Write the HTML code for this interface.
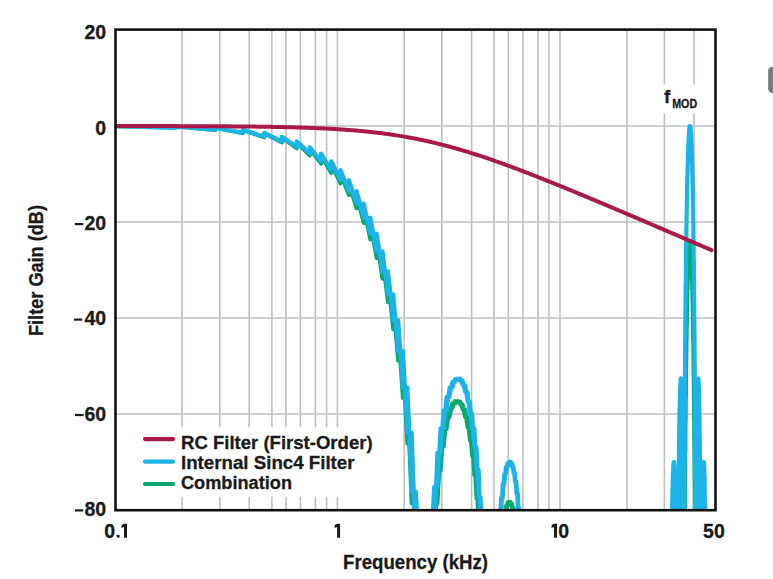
<!DOCTYPE html>
<html><head><meta charset="utf-8"><style>
html,body{margin:0;padding:0;background:#fff;}
svg{display:block;}
</style></head><body>
<svg width="773" height="579" viewBox="0 0 773 579">
<rect x="0" y="0" width="773" height="579" fill="#fff"/>
<g stroke="#bfbfc7" stroke-width="1.6" fill="none"><line x1="182.0" y1="30" x2="182.0" y2="510"/><line x1="219.8" y1="30" x2="219.8" y2="510"/><line x1="249.2" y1="30" x2="249.2" y2="510"/><line x1="271.9" y1="30" x2="271.9" y2="510"/><line x1="285.9" y1="30" x2="285.9" y2="510"/><line x1="300.4" y1="30" x2="300.4" y2="510"/><line x1="315.4" y1="30" x2="315.4" y2="510"/><line x1="326.6" y1="30" x2="326.6" y2="510"/><line x1="337.4" y1="30" x2="337.4" y2="510"/><line x1="404.2" y1="30" x2="404.2" y2="510"/><line x1="441.8" y1="30" x2="441.8" y2="510"/><line x1="471.6" y1="30" x2="471.6" y2="510"/><line x1="494.0" y1="30" x2="494.0" y2="510"/><line x1="508.3" y1="30" x2="508.3" y2="510"/><line x1="523.0" y1="30" x2="523.0" y2="510"/><line x1="538.0" y1="30" x2="538.0" y2="510"/><line x1="548.9" y1="30" x2="548.9" y2="510"/><line x1="560.0" y1="30" x2="560.0" y2="510"/><line x1="627.0" y1="30" x2="627.0" y2="510"/><line x1="664.4" y1="30" x2="664.4" y2="510"/><line x1="694.0" y1="30" x2="694.0" y2="510"/><line x1="115" y1="126.0" x2="716" y2="126.0"/><line x1="115" y1="222.0" x2="716" y2="222.0"/><line x1="115" y1="318.0" x2="716" y2="318.0"/><line x1="115" y1="414.0" x2="716" y2="414.0"/></g>
<rect x="117" y="427.2" width="272" height="69.6" fill="#fff"/>
<rect x="658" y="84.5" width="44" height="28.8" fill="#fff"/>
<defs><clipPath id="pc"><rect x="115.5" y="29.6" width="600" height="480"/></clipPath></defs>
<g clip-path="url(#pc)" fill="none" stroke-linejoin="round" stroke-linecap="round">
<path d="M108.87,126.00 L175.82,127.79 L175.82,126.45 L214.98,130.04 L214.98,127.79 L242.76,133.21 L242.76,130.04 L264.32,137.31 L264.32,133.21 L281.93,142.36 L281.93,137.31 L296.82,148.40 L296.82,142.36 L309.71,155.47 L309.71,148.40 L321.09,163.61 L321.09,155.47 L331.27,172.87 L331.27,163.61 L340.47,183.34 L340.47,172.87 L348.88,195.10 L348.88,183.34 L356.61,208.28 L356.61,195.10 L363.77,223.01 L363.77,208.28 L370.43,239.48 L370.43,223.01 L376.66,257.94 L376.66,239.48 L382.52,278.73 L382.52,257.94 L388.04,302.28 L388.04,278.73 L393.26,329.24 L393.26,302.28 L398.22,360.59 L398.22,329.24 L402.93,397.85 L402.93,360.59 L407.42,443.71 L407.42,397.85 L411.71,503.48 L411.71,443.71 L415.83,560.00 L415.83,503.48 L419.77,560.00 L423.56,560.00 L427.20,560.00 L430.71,552.78 L430.71,560.00 L434.10,503.69 L434.10,552.78 L437.38,470.36 L437.38,503.69 L440.55,446.57 L440.55,470.36 L443.61,429.33 L443.61,446.57 L446.58,417.00 L446.58,429.33 L449.47,408.58 L449.47,417.00 L452.27,403.43 L452.27,408.58 L454.99,401.16 L454.99,403.43 L457.63,401.49 L457.63,401.16 L460.21,404.29 L460.21,401.49 L462.72,409.49 L462.72,404.29 L465.16,417.10 L465.16,409.49 L467.55,427.21 L467.55,417.10 L469.88,440.01 L469.88,427.21 L472.15,455.79 L472.15,440.01 L474.37,475.01 L474.37,455.79 L476.54,498.36 L476.54,475.01 L478.66,526.96 L478.66,498.36 L480.74,560.00 L480.74,526.96 L482.77,560.00 L484.77,560.00 L486.72,560.00 L488.63,560.00 L490.51,560.00 L492.35,560.00 L494.15,560.00 L495.92,560.00 L497.66,560.00 L499.37,552.57 L499.37,560.00 L501.05,534.85 L501.05,552.57 L502.70,521.69 L502.70,534.85 L504.33,512.25 L504.33,521.69 L505.92,506.00 L505.92,512.25 L507.49,502.59 L507.49,506.00 L509.04,501.80 L509.04,502.59 L510.56,503.52 L510.56,501.80 L512.06,507.71 L512.06,503.52 L513.53,514.40 L513.53,507.71 L514.99,523.72 L514.99,514.40 L516.42,535.89 L516.42,523.72 L517.83,551.26 L517.83,535.89 L519.22,560.00 L519.22,551.26 L520.59,560.00 L521.94,560.00 L523.27,560.00 L524.58,560.00 L525.88,560.00 L527.16,560.00 L528.42,560.00 L529.67,560.00 L530.90,560.00 L532.11,560.00 L533.31,560.00 L534.50,560.00 L535.67,560.00 L536.83,560.00 L537.97,560.00 L539.10,560.00 L540.22,560.00 L541.32,560.00 L542.41,560.00 L543.49,560.00 L544.56,560.00 L545.61,560.00 L546.66,560.00 L547.69,560.00 L548.71,560.00 L549.72,560.00 L550.72,560.00 L551.72,560.00 L552.70,560.00 L553.67,560.00 L554.63,560.00 L555.58,560.00 L556.52,560.00 L557.45,560.00 L558.38,560.00 L559.29,560.00 L560.20,560.00 L561.10,560.00 L561.99,560.00 L562.87,560.00 L563.75,560.00 L564.61,560.00 L565.47,560.00 L566.32,560.00 L567.17,560.00 L568.00,560.00 L568.83,560.00 L569.65,560.00 L570.47,560.00 L571.28,560.00 L572.08,560.00 L572.87,560.00 L573.66,560.00 L574.44,560.00 L575.22,560.00 L575.99,560.00 L576.75,560.00 L577.51,560.00 L578.26,560.00 L579.01,560.00 L579.75,560.00 L580.48,560.00 L581.21,560.00 L581.93,560.00 L582.65,560.00 L583.37,560.00 L584.07,560.00 L584.78,560.00 L585.47,560.00 L586.17,560.00 L586.85,560.00 L587.54,560.00 L588.21,560.00 L588.89,560.00 L589.55,560.00 L590.22,560.00 L590.88,560.00 L591.53,560.00 L592.18,560.00 L592.83,560.00 L593.47,560.00 L594.11,560.00 L594.74,560.00 L595.37,560.00 L596.00,560.00 L596.62,560.00 L597.23,560.00 L597.85,560.00 L598.46,560.00 L599.06,560.00 L599.66,560.00 L600.26,560.00 L600.86,560.00 L601.45,560.00 L602.03,560.00 L602.62,560.00 L603.20,560.00 L603.78,560.00 L604.35,560.00 L604.92,560.00 L605.48,560.00 L606.05,560.00 L606.61,560.00 L607.16,560.00 L607.72,560.00 L608.27,560.00 L608.82,560.00 L609.36,560.00 L609.90,560.00 L610.44,560.00 L610.97,560.00 L611.51,560.00 L612.04,560.00 L612.56,560.00 L613.09,560.00 L613.61,560.00 L614.12,560.00 L614.64,560.00 L615.15,560.00 L615.66,560.00 L616.17,560.00 L616.67,560.00 L617.17,560.00 L617.67,560.00 L618.17,560.00 L618.66,560.00 L619.16,560.00 L619.64,560.00 L620.13,560.00 L620.62,560.00 L621.10,560.00 L621.58,560.00 L622.05,560.00 L622.53,560.00 L623.00,560.00 L623.47,560.00 L623.94,560.00 L624.40,560.00 L624.87,560.00 L625.33,560.00 L625.79,560.00 L626.24,560.00 L626.70,560.00 L627.15,560.00 L627.60,560.00 L628.05,560.00 L628.50,560.00 L628.94,560.00 L629.38,560.00 L629.82,560.00 L630.26,560.00 L630.70,560.00 L631.13,560.00 L631.56,560.00 L631.99,560.00 L632.42,560.00 L632.85,560.00 L633.27,560.00 L633.69,560.00 L634.11,560.00 L634.53,560.00 L634.95,560.00 L635.37,560.00 L635.78,560.00 L636.19,560.00 L636.60,560.00 L637.01,560.00 L637.42,560.00 L637.82,560.00 L638.23,560.00 L638.63,560.00 L639.03,560.00 L639.43,560.00 L639.82,560.00 L640.22,560.00 L640.61,560.00 L641.00,560.00 L641.39,560.00 L641.78,560.00 L642.17,560.00 L642.55,560.00 L642.94,560.00 L643.32,560.00 L643.70,560.00 L644.08,560.00 L644.46,560.00 L644.84,560.00 L645.21,560.00 L645.58,560.00 L645.96,560.00 L646.33,560.00 L646.70,560.00 L647.06,560.00 L647.43,560.00 L647.80,560.00 L648.16,560.00 L648.52,560.00 L648.88,560.00 L649.24,560.00 L649.60,560.00 L649.96,560.00 L650.31,560.00 L650.67,560.00 L651.02,560.00 L651.37,560.00 L651.72,560.00 L652.07,560.00 L652.42,560.00 L652.77,560.00 L653.11,560.00 L653.46,560.00 L653.80,560.00 L654.14,560.00 L654.48,560.00 L654.82,560.00 L655.16,560.00 L655.50,560.00 L655.84,560.00 L656.17,560.00 L656.50,560.00 L656.84,560.00 L657.17,560.00 L657.50,560.00 L657.83,560.00 L658.15,560.00 L658.48,560.00 L658.81,560.00 L659.13,560.00 L659.46,560.00 L659.78,560.00 L660.10,560.00 L660.42,560.00 L660.74,560.00 L661.06,560.00 L661.37,560.00 L661.69,560.00 L662.01,560.00 L662.32,560.00 L662.63,560.00 L662.95,560.00 L663.26,560.00 L663.57,560.00 L663.88,560.00 L664.18,560.00 L664.49,560.00 L664.80,560.00 L665.10,560.00 L665.41,560.00 L665.71,560.00 L666.01,560.00 L666.31,560.00 L666.61,560.00 L666.91,560.00 L667.21,560.00 L667.51,560.00 L667.81,560.00 L668.10,560.00 L668.40,560.00 L668.69,560.00 L668.98,560.00 L669.28,560.00 L669.57,560.00 L669.86,560.00 L670.15,560.00 L670.44,560.00 L670.72,560.00 L671.01,560.00 L671.30,560.00 L671.58,560.00 L671.87,560.00 L672.15,560.00 L672.43,560.00 L672.72,560.00 L673.00,560.00 L673.28,560.00 L673.56,560.00 L673.84,560.00 L674.11,560.00 L674.39,560.00 L674.67,560.00 L674.94,560.00 L675.22,560.00 L675.49,560.00 L675.76,560.00 L676.04,560.00 L676.31,560.00 L676.58,560.00 L676.85,560.00 L677.12,560.00 L677.39,560.00 L677.66,560.00 L677.92,560.00 L678.19,560.00 L678.46,560.00 L678.72,560.00 L678.98,549.28 L678.98,560.00 L679.25,532.33 L679.25,549.28 L679.51,518.61 L679.51,532.33 L679.77,507.75 L679.77,518.61 L680.03,499.50 L680.03,507.75 L680.30,493.71 L680.30,499.50 L680.56,490.32 L680.56,493.71 L680.81,489.36 L680.81,490.32 L681.07,490.91 L681.07,489.36 L681.33,495.17 L681.33,490.91 L681.59,502.45 L681.59,495.17 L681.84,513.23 L681.84,502.45 L682.10,528.27 L682.10,513.23 L682.36,548.78 L682.36,528.27 L682.61,560.00 L682.61,548.78 L682.86,560.00 L683.12,560.00 L683.37,560.00 L683.62,560.00 L683.87,560.00 L684.12,560.00 L684.37,560.00 L684.62,525.80 L684.62,560.00 L684.87,484.70 L684.87,525.80 L685.12,450.92 L685.12,484.70 L685.37,422.34 L685.37,450.92 L685.61,397.69 L685.61,422.34 L685.86,376.15 L685.86,397.69 L686.10,357.16 L686.10,376.15 L686.35,340.32 L686.35,357.16 L686.59,325.34 L686.59,340.32 L686.84,312.00 L686.84,325.34 L687.08,300.12 L687.08,312.00 L687.32,289.56 L687.32,300.12 L687.56,280.22 L687.56,289.56 L687.81,272.02 L687.81,280.22 L688.05,264.87 L688.05,272.02 L688.29,258.72 L688.29,264.87 L688.53,253.54 L688.53,258.72 L688.76,249.27 L688.76,253.54 L689.00,245.89 L689.00,249.27 L689.24,243.38 L689.24,245.89 L689.48,241.73 L689.48,243.38 L689.71,240.91 L689.71,241.73 L689.95,240.93 L689.95,240.91 L690.18,241.78 L690.18,240.93 L690.42,243.47 L690.42,241.78 L690.65,246.01 L690.65,243.47 L690.89,249.42 L690.89,246.01 L691.12,253.71 L691.12,249.42 L691.35,258.91 L691.35,253.71 L691.58,265.06 L691.58,258.91 L691.82,272.21 L691.82,265.06 L692.05,280.40 L692.05,272.21 L692.28,289.71 L692.28,280.40 L692.51,300.21 L692.51,289.71 L692.74,312.02 L692.74,300.21 L692.96,325.27 L692.96,312.02 L693.19,340.10 L693.19,325.27 L693.42,356.75 L693.42,340.10 L693.65,375.49 L693.65,356.75 L693.87,396.68 L693.87,375.49 L694.10,420.86 L694.10,396.68 L694.32,448.78 L694.32,420.86 L694.55,481.59 L694.55,448.78 L694.77,521.19 L694.77,481.59 L695.00,560.00 L695.00,521.19 L695.22,560.00 L695.44,560.00 L695.67,560.00 L695.89,560.00 L696.11,560.00 L696.33,560.00 L696.55,560.00 L696.77,559.87 L696.77,560.00 L696.99,538.26 L696.99,559.87 L697.21,522.45 L697.21,538.26 L697.43,511.10 L697.43,522.45 L697.64,503.37 L697.64,511.10 L697.86,498.73 L697.86,503.37 L698.08,496.86 L698.08,498.73 L698.29,497.54 L698.29,496.86 L698.51,500.65 L698.51,497.54 L698.73,506.16 L698.73,500.65 L698.94,514.12 L698.94,506.16 L699.16,524.64 L699.16,514.12 L699.37,537.97 L699.37,524.64 L699.58,554.44 L699.58,537.97 L699.80,560.00 L699.80,554.44 L700.01,560.00 L700.22,560.00 L700.43,560.00 L700.64,560.00 L700.85,560.00 L701.06,560.00 L701.27,560.00 L701.48,560.00 L701.69,560.00 L701.90,560.00 L702.11,560.00 L702.32,560.00 L702.52,560.00 L702.73,560.00 L702.94,560.00 L703.14,560.00 L703.35,560.00 L703.55,560.00 L703.76,560.00 L703.96,560.00 L704.16,560.00 L704.37,560.00 L704.57,560.00 L704.77,560.00 L704.97,560.00 L705.17,560.00 L705.38,560.00 L705.58,560.00 L705.78,560.00 L705.98,560.00 L706.18,560.00 L706.37,560.00 L706.57,560.00 L706.77,560.00 L706.97,560.00 L707.17,560.00 L707.36,560.00 L707.56,560.00 L707.76,560.00 L707.95,560.00 L708.15,560.00 L708.34,560.00 L708.54,560.00 L708.73,560.00 L708.92,560.00 L709.12,560.00 L709.31,560.00 L709.50,560.00 L709.70,560.00 L709.89,560.00 L710.08,560.00 L710.27,560.00 L710.46,560.00 L710.65,560.00 L710.84,560.00 L711.03,560.00 L711.22,560.00 L711.41,560.00" stroke="#06aa70" stroke-width="4.1"/>
<path d="M108.87,126.00 L175.82,127.67 L175.82,126.42 L214.98,129.77 L214.98,127.67 L242.76,132.73 L242.76,129.77 L264.32,136.56 L264.32,132.73 L281.93,141.29 L281.93,136.56 L296.82,146.96 L296.82,141.29 L309.71,153.60 L309.71,146.96 L321.09,161.27 L321.09,153.60 L331.27,170.02 L331.27,161.27 L340.47,179.94 L340.47,170.02 L348.88,191.12 L348.88,179.94 L356.61,203.67 L356.61,191.12 L363.77,217.75 L363.77,203.67 L370.43,233.55 L370.43,217.75 L376.66,251.31 L376.66,233.55 L382.52,271.37 L382.52,251.31 L388.04,294.18 L388.04,271.37 L393.26,320.40 L393.26,294.18 L398.22,350.98 L398.22,320.40 L402.93,387.46 L402.93,350.98 L407.42,432.54 L407.42,387.46 L411.71,491.53 L411.71,432.54 L415.83,560.00 L415.83,491.53 L419.77,560.00 L423.56,560.00 L427.20,560.00 L430.71,536.84 L430.71,560.00 L434.10,486.96 L434.10,536.84 L437.38,452.84 L437.38,486.96 L440.55,428.26 L440.55,452.84 L443.61,410.24 L443.61,428.26 L446.58,397.13 L446.58,410.24 L449.47,387.93 L449.47,397.13 L452.27,382.01 L452.27,387.93 L454.99,378.98 L454.99,382.01 L457.63,378.56 L457.63,378.98 L460.21,380.61 L460.21,378.56 L462.72,385.07 L462.72,380.61 L465.16,391.94 L465.16,385.07 L467.55,401.33 L467.55,391.94 L469.88,413.41 L469.88,401.33 L472.15,428.47 L472.15,413.41 L474.37,446.99 L474.37,428.47 L476.54,469.64 L476.54,446.99 L478.66,497.56 L478.66,469.64 L480.74,532.58 L480.74,497.56 L482.77,560.00 L482.77,532.58 L484.77,560.00 L486.72,560.00 L488.63,560.00 L490.51,560.00 L492.35,560.00 L494.15,560.00 L495.92,560.00 L497.66,540.31 L497.66,560.00 L499.37,516.08 L499.37,540.31 L501.05,497.76 L501.05,516.08 L502.70,484.00 L502.70,497.76 L504.33,473.98 L504.33,484.00 L505.92,467.15 L505.92,473.98 L507.49,463.16 L507.49,467.15 L509.04,461.81 L509.04,463.16 L510.56,462.96 L510.56,461.81 L512.06,466.59 L512.06,462.96 L513.53,472.74 L513.53,466.59 L514.99,481.52 L514.99,472.74 L516.42,493.15 L516.42,481.52 L517.83,507.99 L517.83,493.15 L519.22,526.57 L519.22,507.99 L520.59,549.73 L520.59,526.57 L521.94,560.00 L521.94,549.73 L523.27,560.00 L524.58,560.00 L525.88,560.00 L527.16,560.00 L528.42,560.00 L529.67,560.00 L530.90,560.00 L532.11,560.00 L533.31,560.00 L534.50,560.00 L535.67,560.00 L536.83,546.30 L536.83,560.00 L537.97,533.17 L537.97,546.30 L539.10,523.55 L539.10,533.17 L540.22,516.99 L540.22,523.55 L541.32,513.20 L541.32,516.99 L542.41,512.00 L542.41,513.20 L543.49,513.31 L543.49,512.00 L544.56,517.12 L544.56,513.31 L545.61,523.50 L545.61,517.12 L546.66,532.61 L546.66,523.50 L547.69,544.71 L547.69,532.61 L548.71,560.00 L548.71,544.71 L549.72,560.00 L550.72,560.00 L551.72,560.00 L552.70,560.00 L553.67,560.00 L554.63,560.00 L555.58,560.00 L556.52,560.00 L557.45,560.00 L558.38,560.00 L559.29,560.00 L560.20,560.00 L561.10,560.00 L561.99,560.00 L562.87,560.00 L563.75,560.00 L564.61,555.20 L564.61,560.00 L565.47,549.25 L565.47,555.20 L566.32,545.99 L566.32,549.25 L567.17,545.29 L567.17,545.99 L568.00,547.08 L568.00,545.29 L568.83,551.41 L568.83,547.08 L569.65,558.37 L569.65,551.41 L570.47,560.00 L570.47,558.37 L571.28,560.00 L572.08,560.00 L572.87,560.00 L573.66,560.00 L574.44,560.00 L575.22,560.00 L575.99,560.00 L576.75,560.00 L577.51,560.00 L578.26,560.00 L579.01,560.00 L579.75,560.00 L580.48,560.00 L581.21,560.00 L581.93,560.00 L582.65,560.00 L583.37,560.00 L584.07,560.00 L584.78,560.00 L585.47,560.00 L586.17,560.00 L586.85,560.00 L587.54,560.00 L588.21,560.00 L588.89,560.00 L589.55,560.00 L590.22,560.00 L590.88,560.00 L591.53,560.00 L592.18,560.00 L592.83,560.00 L593.47,560.00 L594.11,560.00 L594.74,560.00 L595.37,560.00 L596.00,560.00 L596.62,560.00 L597.23,560.00 L597.85,560.00 L598.46,560.00 L599.06,560.00 L599.66,560.00 L600.26,560.00 L600.86,560.00 L601.45,560.00 L602.03,560.00 L602.62,560.00 L603.20,560.00 L603.78,560.00 L604.35,560.00 L604.92,560.00 L605.48,560.00 L606.05,560.00 L606.61,560.00 L607.16,560.00 L607.72,560.00 L608.27,560.00 L608.82,560.00 L609.36,560.00 L609.90,560.00 L610.44,560.00 L610.97,560.00 L611.51,560.00 L612.04,560.00 L612.56,560.00 L613.09,560.00 L613.61,560.00 L614.12,560.00 L614.64,560.00 L615.15,560.00 L615.66,560.00 L616.17,560.00 L616.67,560.00 L617.17,560.00 L617.67,560.00 L618.17,560.00 L618.66,560.00 L619.16,560.00 L619.64,560.00 L620.13,560.00 L620.62,560.00 L621.10,560.00 L621.58,560.00 L622.05,560.00 L622.53,560.00 L623.00,560.00 L623.47,560.00 L623.94,560.00 L624.40,560.00 L624.87,560.00 L625.33,560.00 L625.79,560.00 L626.24,560.00 L626.70,560.00 L627.15,560.00 L627.60,560.00 L628.05,560.00 L628.50,560.00 L628.94,560.00 L629.38,560.00 L629.82,560.00 L630.26,560.00 L630.70,560.00 L631.13,560.00 L631.56,560.00 L631.99,560.00 L632.42,560.00 L632.85,560.00 L633.27,560.00 L633.69,560.00 L634.11,560.00 L634.53,560.00 L634.95,560.00 L635.37,560.00 L635.78,560.00 L636.19,560.00 L636.60,560.00 L637.01,560.00 L637.42,560.00 L637.82,560.00 L638.23,560.00 L638.63,560.00 L639.03,560.00 L639.43,560.00 L639.82,560.00 L640.22,560.00 L640.61,560.00 L641.00,560.00 L641.39,560.00 L641.78,560.00 L642.17,560.00 L642.55,560.00 L642.94,560.00 L643.32,560.00 L643.70,560.00 L644.08,560.00 L644.46,560.00 L644.84,560.00 L645.21,560.00 L645.58,560.00 L645.96,560.00 L646.33,560.00 L646.70,560.00 L647.06,560.00 L647.43,560.00 L647.80,560.00 L648.16,560.00 L648.52,560.00 L648.88,560.00 L649.24,560.00 L649.60,560.00 L649.96,560.00 L650.31,560.00 L650.67,560.00 L651.02,560.00 L651.37,560.00 L651.72,560.00 L652.07,560.00 L652.42,560.00 L652.77,560.00 L653.11,560.00 L653.46,560.00 L653.80,560.00 L654.14,560.00 L654.48,560.00 L654.82,560.00 L655.16,560.00 L655.50,560.00 L655.84,560.00 L656.17,560.00 L656.50,560.00 L656.84,560.00 L657.17,555.26 L657.17,560.00 L657.50,549.37 L657.50,555.26 L657.83,546.06 L657.83,549.37 L658.15,545.26 L658.15,546.06 L658.48,546.98 L658.48,545.26 L658.81,551.30 L658.81,546.98 L659.13,558.39 L659.13,551.30 L659.46,560.00 L659.46,558.39 L659.78,560.00 L660.10,560.00 L660.42,560.00 L660.74,560.00 L661.06,560.00 L661.37,560.00 L661.69,560.00 L662.01,560.00 L662.32,560.00 L662.63,560.00 L662.95,560.00 L663.26,560.00 L663.57,560.00 L663.88,560.00 L664.18,560.00 L664.49,553.57 L664.49,560.00 L664.80,539.49 L664.80,553.57 L665.10,528.62 L665.10,539.49 L665.41,520.63 L665.41,528.62 L665.71,515.29 L665.71,520.63 L666.01,512.49 L666.01,515.29 L666.31,512.18 L666.31,512.49 L666.61,514.40 L666.61,512.18 L666.91,519.27 L666.91,514.40 L667.21,527.01 L667.21,519.27 L667.51,537.97 L667.51,527.01 L667.81,552.68 L667.81,537.97 L668.10,560.00 L668.10,552.68 L668.40,560.00 L668.69,560.00 L668.98,560.00 L669.28,560.00 L669.57,560.00 L669.86,560.00 L670.15,560.00 L670.44,560.00 L670.72,560.00 L671.01,560.00 L671.30,560.00 L671.58,539.84 L671.58,560.00 L671.87,518.64 L671.87,539.84 L672.15,501.64 L672.15,518.64 L672.43,488.13 L672.43,501.64 L672.72,477.68 L672.72,488.13 L673.00,469.97 L673.00,477.68 L673.28,464.84 L673.28,469.97 L673.56,462.20 L673.56,464.84 L673.84,462.04 L673.84,462.20 L674.11,464.43 L674.11,462.04 L674.39,469.52 L674.39,464.43 L674.67,477.58 L674.67,469.52 L674.94,489.02 L674.94,477.58 L675.22,504.48 L675.22,489.02 L675.49,524.96 L675.49,504.48 L675.76,552.12 L675.76,524.96 L676.04,560.00 L676.04,552.12 L676.31,560.00 L676.58,560.00 L676.85,560.00 L677.12,560.00 L677.39,560.00 L677.66,560.00 L677.92,558.32 L677.92,560.00 L678.19,517.55 L678.19,558.32 L678.46,485.66 L678.46,517.55 L678.72,460.02 L678.72,485.66 L678.98,439.13 L678.98,460.02 L679.25,422.06 L679.25,439.13 L679.51,408.24 L679.51,422.06 L679.77,397.26 L679.77,408.24 L680.03,388.90 L680.03,397.26 L680.30,383.00 L680.30,388.90 L680.56,379.50 L680.56,383.00 L680.81,378.42 L680.81,379.50 L681.07,379.87 L681.07,378.42 L681.33,384.02 L681.33,379.87 L681.59,391.18 L681.59,384.02 L681.84,401.86 L681.84,391.18 L682.10,416.78 L682.10,401.86 L682.36,437.18 L682.36,416.78 L682.61,465.10 L682.61,437.18 L682.86,504.47 L682.86,465.10 L683.12,560.00 L683.12,504.47 L683.37,560.00 L683.62,560.00 L683.87,560.00 L684.12,538.37 L684.12,560.00 L684.37,465.71 L684.37,538.37 L684.62,413.23 L684.62,465.71 L684.87,372.03 L684.87,413.23 L685.12,338.14 L685.12,372.03 L685.37,309.45 L685.37,338.14 L685.61,284.69 L685.61,309.45 L685.86,263.04 L685.86,284.69 L686.10,243.95 L686.10,263.04 L686.35,227.01 L686.35,243.95 L686.59,211.92 L686.59,227.01 L686.84,198.47 L686.84,211.92 L687.08,186.49 L687.08,198.47 L687.32,175.83 L687.32,186.49 L687.56,166.39 L687.56,175.83 L687.81,158.08 L687.81,166.39 L688.05,150.83 L688.05,158.08 L688.29,144.58 L688.29,150.83 L688.53,139.29 L688.53,144.58 L688.76,134.92 L688.76,139.29 L689.00,131.44 L689.00,134.92 L689.24,128.83 L689.24,131.44 L689.48,127.07 L689.48,128.83 L689.71,126.15 L689.71,127.07 L689.95,126.07 L689.95,126.15 L690.18,126.82 L690.18,126.07 L690.42,128.41 L690.42,126.82 L690.65,130.85 L690.65,128.41 L690.89,134.15 L690.89,130.85 L691.12,138.34 L691.12,134.15 L691.35,143.45 L691.35,138.34 L691.58,149.50 L691.58,143.45 L691.82,156.54 L691.82,149.50 L692.05,164.64 L692.05,156.54 L692.28,173.85 L692.28,164.64 L692.51,184.25 L692.51,173.85 L692.74,195.96 L692.74,184.25 L692.96,209.11 L692.96,195.96 L693.19,223.85 L693.19,209.11 L693.42,240.40 L693.42,223.85 L693.65,259.03 L693.65,240.40 L693.87,280.13 L693.87,259.03 L694.10,304.21 L694.10,280.13 L694.32,332.03 L694.32,304.21 L694.55,364.75 L694.55,332.03 L694.77,404.25 L694.77,364.75 L695.00,454.00 L695.00,404.25 L695.22,521.42 L695.22,454.00 L695.44,560.00 L695.44,521.42 L695.67,560.00 L695.89,560.00 L696.11,560.00 L696.33,514.34 L696.33,560.00 L696.55,471.88 L696.55,514.34 L696.77,442.07 L696.77,471.88 L696.99,420.38 L696.99,442.07 L697.21,404.47 L697.21,420.38 L697.43,393.02 L697.43,404.47 L697.64,385.20 L697.64,393.02 L697.86,380.47 L697.86,385.20 L698.08,378.51 L698.08,380.47 L698.29,379.09 L698.29,378.51 L698.51,382.11 L698.51,379.09 L698.73,387.52 L698.73,382.11 L698.94,395.39 L698.94,387.52 L699.16,405.82 L699.16,395.39 L699.37,419.05 L699.37,405.82 L699.58,435.43 L699.58,419.05 L699.80,455.50 L699.80,435.43 L700.01,480.10 L700.01,455.50 L700.22,510.57 L700.22,480.10 L700.43,549.26 L700.43,510.57 L700.64,560.00 L700.64,549.26 L700.85,560.00 L701.06,560.00 L701.27,560.00 L701.48,560.00 L701.69,560.00 L701.90,560.00 L702.11,558.58 L702.11,560.00 L702.32,529.79 L702.32,558.58 L702.52,508.13 L702.52,529.79 L702.73,491.77 L702.73,508.13 L702.94,479.58 L702.94,491.77 L703.14,470.88 L703.14,479.58 L703.35,465.22 L703.35,470.88 L703.55,462.31 L703.55,465.22 L703.76,461.97 L703.76,462.31 L703.96,464.12 L703.96,461.97 L704.16,468.74 L704.16,464.12 L704.37,475.92 L704.37,468.74 L704.57,485.81 L704.57,475.92 L704.77,498.68 L704.77,485.81 L704.97,514.93 L704.97,498.68 L705.17,535.22 L705.17,514.93 L705.38,560.00 L705.38,535.22 L705.58,560.00 L705.78,560.00 L705.98,560.00 L706.18,560.00 L706.37,560.00 L706.57,560.00 L706.77,560.00 L706.97,560.00 L707.17,560.00 L707.36,560.00 L707.56,560.00 L707.76,556.14 L707.76,560.00 L707.95,540.59 L707.95,556.14 L708.15,528.93 L708.15,540.59 L708.34,520.58 L708.34,528.93 L708.54,515.15 L708.54,520.58 L708.73,512.41 L708.73,515.15 L708.92,512.23 L708.92,512.41 L709.12,514.53 L709.12,512.23 L709.31,519.36 L709.31,514.53 L709.50,526.80 L709.50,519.36 L709.70,537.07 L709.70,526.80 L709.89,550.48 L709.89,537.07 L710.08,560.00 L710.08,550.48 L710.27,560.00 L710.46,560.00 L710.65,560.00 L710.84,560.00 L711.03,560.00 L711.22,560.00 L711.41,560.00" stroke="#1cb4e8" stroke-width="4.1"/>
<path d="M115.10,126.03 L116.59,126.04 L118.08,126.04 L119.57,126.04 L121.06,126.04 L122.55,126.04 L124.04,126.04 L125.54,126.04 L127.03,126.04 L128.52,126.05 L130.01,126.05 L131.50,126.05 L132.99,126.05 L134.48,126.05 L135.97,126.05 L137.46,126.06 L138.95,126.06 L140.44,126.06 L141.93,126.06 L143.42,126.06 L144.92,126.06 L146.41,126.07 L147.90,126.07 L149.39,126.07 L150.88,126.07 L152.37,126.08 L153.86,126.08 L155.35,126.08 L156.84,126.08 L158.33,126.08 L159.82,126.09 L161.31,126.09 L162.80,126.09 L164.30,126.10 L165.79,126.10 L167.28,126.10 L168.77,126.11 L170.26,126.11 L171.75,126.11 L173.24,126.12 L174.73,126.12 L176.22,126.12 L177.71,126.13 L179.20,126.13 L180.69,126.13 L182.18,126.14 L183.68,126.14 L185.17,126.15 L186.66,126.15 L188.15,126.16 L189.64,126.16 L191.13,126.17 L192.62,126.17 L194.11,126.18 L195.60,126.18 L197.09,126.19 L198.58,126.19 L200.07,126.20 L201.56,126.21 L203.06,126.21 L204.55,126.22 L206.04,126.23 L207.53,126.23 L209.02,126.24 L210.51,126.25 L212.00,126.26 L213.49,126.26 L214.98,126.27 L216.47,126.28 L217.96,126.29 L219.45,126.30 L220.94,126.31 L222.44,126.32 L223.93,126.33 L225.42,126.34 L226.91,126.35 L228.40,126.36 L229.89,126.37 L231.38,126.38 L232.87,126.39 L234.36,126.41 L235.85,126.42 L237.34,126.43 L238.83,126.45 L240.32,126.46 L241.82,126.47 L243.31,126.49 L244.80,126.50 L246.29,126.52 L247.78,126.53 L249.27,126.55 L250.76,126.57 L252.25,126.59 L253.74,126.60 L255.23,126.62 L256.72,126.64 L258.21,126.66 L259.70,126.68 L261.20,126.70 L262.69,126.72 L264.18,126.75 L265.67,126.77 L267.16,126.79 L268.65,126.82 L270.14,126.84 L271.63,126.87 L273.12,126.90 L274.61,126.92 L276.10,126.95 L277.59,126.98 L279.08,127.01 L280.58,127.04 L282.07,127.07 L283.56,127.11 L285.05,127.14 L286.54,127.18 L288.03,127.21 L289.52,127.25 L291.01,127.29 L292.50,127.32 L293.99,127.37 L295.48,127.41 L296.97,127.45 L298.46,127.49 L299.96,127.54 L301.45,127.58 L302.94,127.63 L304.43,127.68 L305.92,127.73 L307.41,127.78 L308.90,127.84 L310.39,127.89 L311.88,127.95 L313.37,128.01 L314.86,128.07 L316.35,128.13 L317.84,128.19 L319.34,128.26 L320.83,128.32 L322.32,128.39 L323.81,128.46 L325.30,128.54 L326.79,128.61 L328.28,128.69 L329.77,128.77 L331.26,128.85 L332.75,128.93 L334.24,129.02 L335.73,129.11 L337.22,129.20 L338.72,129.29 L340.21,129.38 L341.70,129.48 L343.19,129.58 L344.68,129.68 L346.17,129.79 L347.66,129.90 L349.15,130.01 L350.64,130.12 L352.13,130.24 L353.62,130.36 L355.11,130.48 L356.60,130.61 L358.10,130.74 L359.59,130.87 L361.08,131.01 L362.57,131.15 L364.06,131.29 L365.55,131.43 L367.04,131.58 L368.53,131.74 L370.02,131.89 L371.51,132.05 L373.00,132.22 L374.49,132.39 L375.98,132.56 L377.48,132.73 L378.97,132.91 L380.46,133.10 L381.95,133.28 L383.44,133.48 L384.93,133.67 L386.42,133.87 L387.91,134.08 L389.40,134.28 L390.89,134.50 L392.38,134.72 L393.87,134.94 L395.36,135.16 L396.86,135.40 L398.35,135.63 L399.84,135.87 L401.33,136.12 L402.82,136.37 L404.31,136.62 L405.80,136.88 L407.29,137.14 L408.78,137.41 L410.27,137.69 L411.76,137.97 L413.25,138.25 L414.74,138.54 L416.24,138.83 L417.73,139.13 L419.22,139.43 L420.71,139.74 L422.20,140.05 L423.69,140.37 L425.18,140.69 L426.67,141.02 L428.16,141.36 L429.65,141.69 L431.14,142.04 L432.63,142.38 L434.12,142.74 L435.62,143.09 L437.11,143.46 L438.60,143.82 L440.09,144.20 L441.58,144.57 L443.07,144.96 L444.56,145.34 L446.05,145.73 L447.54,146.13 L449.03,146.53 L450.52,146.94 L452.01,147.35 L453.50,147.76 L455.00,148.18 L456.49,148.60 L457.98,149.03 L459.47,149.46 L460.96,149.90 L462.45,150.34 L463.94,150.79 L465.43,151.24 L466.92,151.69 L468.41,152.15 L469.90,152.61 L471.39,153.08 L472.88,153.55 L474.38,154.02 L475.87,154.50 L477.36,154.98 L478.85,155.47 L480.34,155.95 L481.83,156.45 L483.32,156.94 L484.81,157.44 L486.30,157.94 L487.79,158.45 L489.28,158.96 L490.77,159.47 L492.26,159.99 L493.76,160.51 L495.25,161.03 L496.74,161.55 L498.23,162.08 L499.72,162.61 L501.21,163.15 L502.70,163.68 L504.19,164.22 L505.68,164.77 L507.17,165.31 L508.66,165.86 L510.15,166.41 L511.64,166.96 L513.14,167.51 L514.63,168.07 L516.12,168.63 L517.61,169.19 L519.10,169.75 L520.59,170.32 L522.08,170.89 L523.57,171.46 L525.06,172.03 L526.55,172.60 L528.04,173.18 L529.53,173.76 L531.02,174.34 L532.52,174.92 L534.01,175.50 L535.50,176.08 L536.99,176.67 L538.48,177.26 L539.97,177.85 L541.46,178.44 L542.95,179.03 L544.44,179.62 L545.93,180.22 L547.42,180.81 L548.91,181.41 L550.40,182.01 L551.90,182.61 L553.39,183.21 L554.88,183.82 L556.37,184.42 L557.86,185.03 L559.35,185.63 L560.84,186.24 L562.33,186.85 L563.82,187.46 L565.31,188.07 L566.80,188.68 L568.29,189.29 L569.78,189.90 L571.28,190.52 L572.77,191.13 L574.26,191.75 L575.75,192.36 L577.24,192.98 L578.73,193.60 L580.22,194.22 L581.71,194.84 L583.20,195.46 L584.69,196.08 L586.18,196.70 L587.67,197.32 L589.16,197.94 L590.66,198.57 L592.15,199.19 L593.64,199.82 L595.13,200.44 L596.62,201.07 L598.11,201.69 L599.60,202.32 L601.09,202.95 L602.58,203.57 L604.07,204.20 L605.56,204.83 L607.05,205.46 L608.54,206.09 L610.04,206.72 L611.53,207.35 L613.02,207.98 L614.51,208.61 L616.00,209.24 L617.49,209.88 L618.98,210.51 L620.47,211.14 L621.96,211.77 L623.45,212.41 L624.94,213.04 L626.43,213.67 L627.92,214.31 L629.42,214.94 L630.91,215.58 L632.40,216.21 L633.89,216.85 L635.38,217.48 L636.87,218.12 L638.36,218.75 L639.85,219.39 L641.34,220.03 L642.83,220.66 L644.32,221.30 L645.81,221.94 L647.30,222.57 L648.80,223.21 L650.29,223.85 L651.78,224.49 L653.27,225.12 L654.76,225.76 L656.25,226.40 L657.74,227.04 L659.23,227.68 L660.72,228.31 L662.21,228.95 L663.70,229.59 L665.19,230.23 L666.68,230.87 L668.18,231.51 L669.67,232.15 L671.16,232.79 L672.65,233.43 L674.14,234.07 L675.63,234.71 L677.12,235.35 L678.61,235.99 L680.10,236.63 L681.59,237.27 L683.08,237.91 L684.57,238.55 L686.06,239.19 L687.56,239.83 L689.05,240.47 L690.54,241.11 L692.03,241.75 L693.52,242.40 L695.01,243.04 L696.50,243.68 L697.99,244.32 L699.48,244.96 L700.97,245.60 L702.46,246.24 L703.95,246.89 L705.44,247.53 L706.94,248.17 L708.43,248.81 L709.92,249.45 L711.41,250.09" stroke="#a91a49" stroke-width="4"/>
</g>
<rect x="115.5" y="29.6" width="600" height="480.6" fill="none" stroke="#111" stroke-width="2.6"/>
<rect x="768.1" y="66.7" width="12" height="26.3" rx="4.2" fill="#7b7b7b"/>
<line x1="145" y1="439.1" x2="173" y2="439.1" stroke="#a91a49" stroke-width="4.2" stroke-linecap="round"/>
<line x1="145" y1="461.6" x2="173" y2="461.6" stroke="#1cb4e8" stroke-width="4.2" stroke-linecap="round"/>
<line x1="145" y1="484.0" x2="173" y2="484.0" stroke="#06aa70" stroke-width="4.2" stroke-linecap="round"/>
<text x="181.0" y="448.7" font-size="19.2" text-anchor="start" textLength="191.6" lengthAdjust="spacingAndGlyphs" font-family="Liberation Sans" font-weight="bold" fill="#1a1a1a" stroke="#1a1a1a" stroke-width="0.3" >RC Filter (First-Order)</text>
<text x="181.0" y="468.8" font-size="19.2" text-anchor="start" textLength="173.5" lengthAdjust="spacingAndGlyphs" font-family="Liberation Sans" font-weight="bold" fill="#1a1a1a" stroke="#1a1a1a" stroke-width="0.3" >Internal Sinc4 Filter</text>
<text x="181.0" y="488.9" font-size="19.2" text-anchor="start" textLength="111.0" lengthAdjust="spacingAndGlyphs" font-family="Liberation Sans" font-weight="bold" fill="#1a1a1a" stroke="#1a1a1a" stroke-width="0.3" >Combination</text>
<text x="106.2" y="38.9" font-size="19.5" text-anchor="end" font-family="Liberation Sans" font-weight="bold" fill="#1a1a1a" stroke="#1a1a1a" stroke-width="0.3" >20</text>
<text x="106.2" y="134.6" font-size="19.5" text-anchor="end" font-family="Liberation Sans" font-weight="bold" fill="#1a1a1a" stroke="#1a1a1a" stroke-width="0.3" >0</text>
<text x="106.2" y="229.9" font-size="19.5" text-anchor="end" font-family="Liberation Sans" font-weight="bold" fill="#1a1a1a" stroke="#1a1a1a" stroke-width="0.3" >20</text>
<rect x="74.8" y="223.0" width="8.5" height="2.2" fill="#1a1a1a"/>
<text x="106.2" y="325.4" font-size="19.5" text-anchor="end" font-family="Liberation Sans" font-weight="bold" fill="#1a1a1a" stroke="#1a1a1a" stroke-width="0.3" >40</text>
<rect x="73.9" y="318.5" width="8.4" height="2.2" fill="#1a1a1a"/>
<text x="106.2" y="420.8" font-size="19.5" text-anchor="end" font-family="Liberation Sans" font-weight="bold" fill="#1a1a1a" stroke="#1a1a1a" stroke-width="0.3" >60</text>
<rect x="75.0" y="413.9" width="8.6" height="2.2" fill="#1a1a1a"/>
<text x="106.2" y="516.2" font-size="19.5" text-anchor="end" font-family="Liberation Sans" font-weight="bold" fill="#1a1a1a" stroke="#1a1a1a" stroke-width="0.3" >80</text>
<rect x="75.0" y="509.3" width="8.2" height="2.2" fill="#1a1a1a"/>
<text x="104.3" y="537.6" font-size="19.5" text-anchor="start" font-family="Liberation Sans" font-weight="bold" fill="#1a1a1a" stroke="#1a1a1a" stroke-width="0.3" >0</text>
<rect x="116.7" y="534.9" width="2.9" height="2.7" fill="#1a1a1a"/>
<path d="M121.5,525.2 L123.8,523.8 L127.0,523.8 L127.0,537.7 L124.0,537.7 L124.0,527.0 L121.5,527.9 Z" fill="#1a1a1a"/>
<path d="M334.6,525.2 L336.9,523.8 L340.1,523.8 L340.1,537.7 L337.1,537.7 L337.1,527.0 L334.6,527.9 Z" fill="#1a1a1a"/>
<path d="M551.5,525.2 L553.8,523.8 L557.0,523.8 L557.0,537.7 L554.0,537.7 L554.0,527.0 L551.5,527.9 Z" fill="#1a1a1a"/>
<text x="558.2" y="537.7" font-size="19.5" text-anchor="start" font-family="Liberation Sans" font-weight="bold" fill="#1a1a1a" stroke="#1a1a1a" stroke-width="0.3" >0</text>
<text x="713.9" y="537.7" font-size="19.5" text-anchor="middle" font-family="Liberation Sans" font-weight="bold" fill="#1a1a1a" stroke="#1a1a1a" stroke-width="0.3" >50</text>
<text x="343.0" y="568.8" font-size="19.6" text-anchor="start" textLength="145.0" lengthAdjust="spacingAndGlyphs" font-family="Liberation Sans" font-weight="bold" fill="#1a1a1a" stroke="#1a1a1a" stroke-width="0.3" >Frequency (kHz)</text>
<text transform="translate(43,336) rotate(-90)" x="0" y="0" font-size="19.6" textLength="131" lengthAdjust="spacingAndGlyphs" font-family="Liberation Sans" font-weight="bold" fill="#1a1a1a" stroke="#1a1a1a" stroke-width="0.3">Filter Gain (dB)</text>
<text x="664.0" y="103.0" font-size="18.7" text-anchor="start" font-family="Liberation Sans" font-weight="bold" fill="#1a1a1a" stroke="#1a1a1a" stroke-width="0.3" >f</text>
<text x="672.2" y="108.4" font-size="12.3" text-anchor="start" textLength="25.0" lengthAdjust="spacingAndGlyphs" font-family="Liberation Sans" font-weight="bold" fill="#1a1a1a" stroke="#1a1a1a" stroke-width="0.3" >MOD</text>
</svg>
</body></html>
